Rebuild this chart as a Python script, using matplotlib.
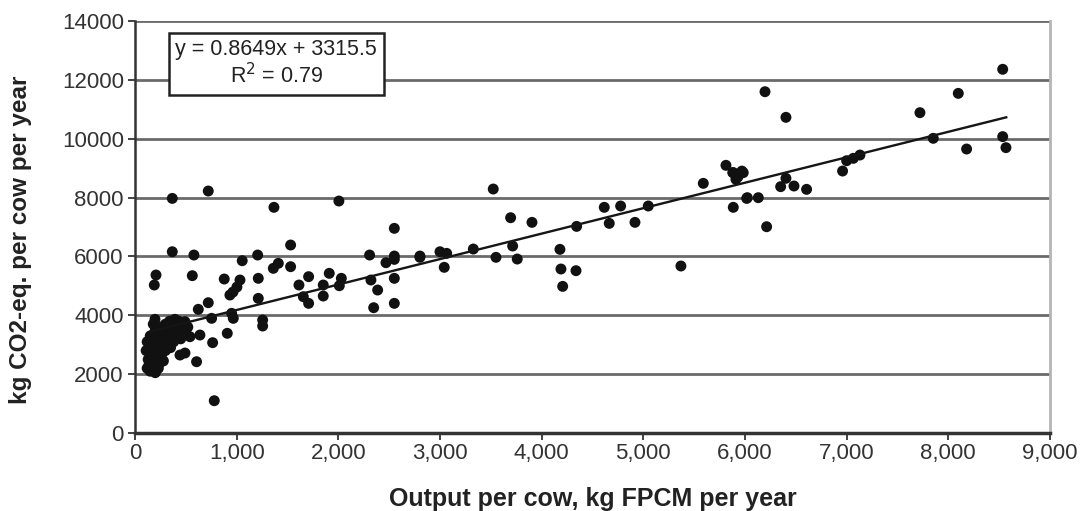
import matplotlib
matplotlib.use("Agg")
import matplotlib.pyplot as plt
import numpy as np
from matplotlib.ticker import FuncFormatter

plt.rcParams["font.family"] = ["Liberation Sans", "DejaVu Sans"]

# output per cow (kg FPCM / year) and emissions (kg CO2-eq / cow / year)
cluster_x = [120, 150, 180, 200, 230, 250, 130, 160, 190, 220, 260, 280, 300, 140,
             170, 210, 240, 270, 310, 120, 150, 190, 230, 260, 290, 330, 360, 200,
             250, 300, 340, 390, 420, 450, 380, 350, 400, 430, 460, 500, 520, 180,
             110, 140, 210, 280, 320, 370]
cluster_y = [2200, 2100, 2300, 2050, 2200, 2400, 2500, 2600, 2700, 2550, 2650, 2450,
             2800, 2900, 3000, 2950, 3100, 3000, 3150, 3100, 3300, 3250, 3350, 3200,
             3400, 3300, 3500, 3500, 3600, 3700, 3800, 3600, 3400, 3200, 3100, 2900,
             3700, 3800, 3650, 3500, 3600, 3700, 2800, 2350, 2150, 3500, 3000, 3400]

low_x = [367, 721, 1367, 2006, 2551, 367, 580, 1207, 1531, 1055, 2308, 2551, 2803,
         2469, 2551, 207, 190, 564, 878, 1033, 1003, 964, 934, 1213, 1361, 1410,
         1531, 1708, 1613, 1656, 1708, 1852, 1852, 1911, 2030, 2010, 2321, 2387,
         2348, 2551, 2551, 1213, 1256, 1256, 951, 967, 908, 721, 623, 764, 780,
         606, 492, 443, 639, 541, 197, 393, 492, 754]
low_y = [7972, 8223, 7669, 7883, 6955, 6160, 6048, 6048, 6388, 5855, 6048, 6014,
         6014, 5787, 5900, 5369, 5029, 5346, 5233, 5199, 4961, 4790, 4689, 5256,
         5596, 5766, 5652, 5313, 5029, 4632, 4406, 5029, 4655, 5426, 5256, 5005,
         5199, 4859, 4258, 5256, 4406, 4575, 3840, 3636, 4067, 3897, 3388, 4428,
         4203, 3070, 1098, 2423, 2718, 2650, 3330, 3272, 3863, 3863, 3784, 3897]

mid_x = [3524, 3695, 3905, 2803, 3000, 3066, 3042, 3328, 3551, 3715, 3760, 4180,
         4190, 4338, 4207, 4344, 4616, 4665, 4777, 4918, 5049, 5370, 5590, 5880,
         5930, 5970, 5885, 6017]
mid_y = [8291, 7316, 7158, 5970, 6160, 6105, 5630, 6252, 5970, 6354, 5912, 6241,
         5573, 5516, 4983, 7021, 7669, 7124, 7714, 7158, 7714, 5675, 8484, 8850,
         8700, 8900, 7669, 7972]

high_x = [6197, 6403, 8535, 8098, 7721, 7852, 8535, 8567, 8180, 7131, 7066, 7000,
          6960, 5813, 5885, 5983, 5911, 6403, 6351, 6482, 6606, 6023, 6131, 6213]
high_y = [11597, 10727, 12359, 11541, 10885, 10014, 10071, 9697, 9650, 9446, 9334,
          9253, 8902, 9096, 8846, 8846, 8621, 8655, 8371, 8393, 8280, 7997, 7997, 7010]

slope = 0.8649
intercept = 3315.5
line_x = [150, 8570]

x = np.array(cluster_x + low_x + mid_x + high_x)
y = np.array(cluster_y + low_y + mid_y + high_y)

fig = plt.figure(figsize=(10.91, 5.11), dpi=100)
ax = fig.add_axes([0.1237, 0.1526, 0.9624 - 0.1237, 0.9589 - 0.1526])

ax.set_xlim(0, 9000)
ax.set_ylim(0, 14000)

# horizontal gridlines
for gy in range(2000, 14001, 2000):
    ax.axhline(gy, color="#6a6a6a", linewidth=2, zorder=1)

ax.scatter(x, y, s=62, color="#111111", edgecolors="none", zorder=3)

lx = np.array(line_x)
ax.plot(lx, slope * lx + intercept, color="#151515", linewidth=1.7, zorder=4)

ax.text(1390, 12550, "y = 0.8649x + 3315.5\nR$^2$ = 0.79", ha="center", va="center",
        fontsize=15.5, color="#222222", linespacing=1.15, zorder=5,
        bbox=dict(boxstyle="square,pad=0.3", facecolor="white", edgecolor="#222222",
                  linewidth=1.8))

ax.set_xticks(range(0, 9001, 1000))
ax.set_yticks(range(0, 14001, 2000))
ax.xaxis.set_major_formatter(FuncFormatter(lambda v, p: f"{int(v):,}"))
ax.tick_params(axis="both", labelsize=16, colors="#333333", length=5, width=1.3)
ax.tick_params(axis="x", pad=2)
ax.tick_params(axis="y", pad=3)

for side in ["left", "bottom"]:
    ax.spines[side].set_color("#333333")
ax.spines["left"].set_linewidth(1.8)
ax.spines["bottom"].set_linewidth(2.5)
ax.spines["right"].set_color("#b5b5b5")
ax.spines["right"].set_linewidth(2)
ax.spines["top"].set_visible(False)

ax.set_xlabel("Output per cow, kg FPCM per year", fontsize=18, fontweight="bold",
              color="#222222", labelpad=17)
ax.set_ylabel("kg CO2-eq. per cow per year", fontsize=17.5, fontweight="bold",
              color="#222222")
ax.yaxis.set_label_coords(-0.113, 0.468)

plt.savefig("out.png", dpi=100)
plt.close()
